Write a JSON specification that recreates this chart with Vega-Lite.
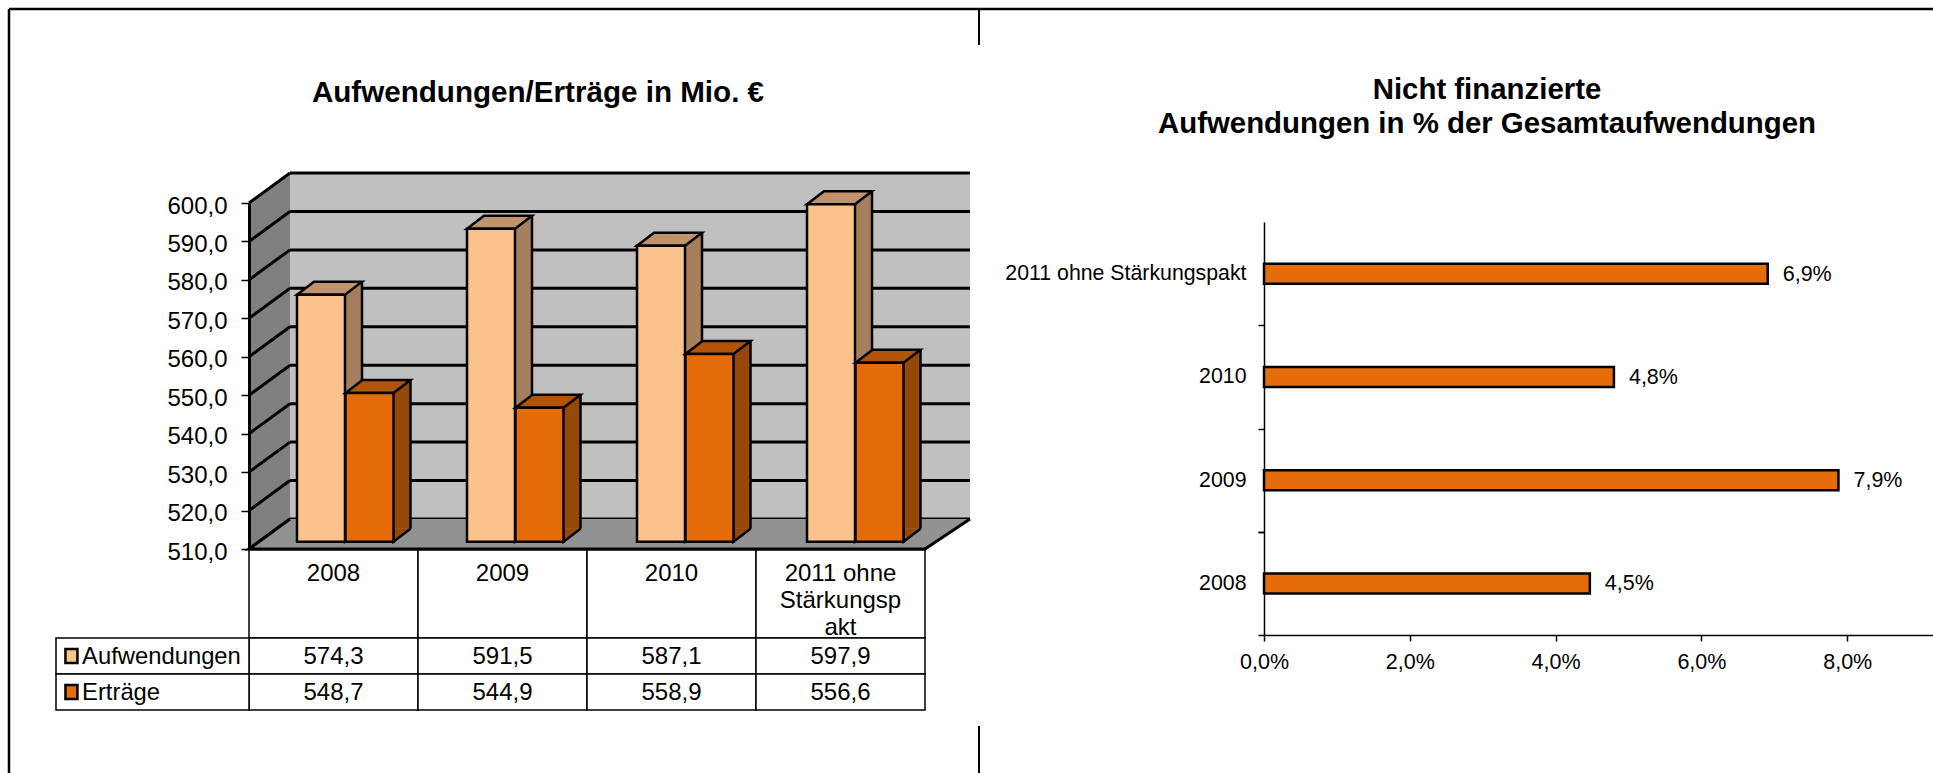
{"$schema":"https://vega.github.io/schema/vega-lite/v6.json","width":1933,"height":773,"padding":0,"autosize":"none","background":"white","view":{"stroke":null},
"config":{"locale":{"number":{"decimal":",","thousands":".","grouping":[3],"currency":["","€"]}},"text":{"font":"Liberation Sans","fontSize":24,"color":"#000"},"axis":{"labelFont":"Liberation Sans","labelFontSize":24,"labelColor":"#000","title":null,"grid":false,"domainColor":"#000","tickColor":"#000"}},
"datasets":{
"werte":[{"jahr":"2008","reihe":"Aufwendungen","wert":574.3},{"jahr":"2009","reihe":"Aufwendungen","wert":591.5},{"jahr":"2010","reihe":"Aufwendungen","wert":587.1},{"jahr":"2011 ohne Stärkungspakt","reihe":"Aufwendungen","wert":597.9},{"jahr":"2008","reihe":"Erträge","wert":548.7},{"jahr":"2009","reihe":"Erträge","wert":544.9},{"jahr":"2010","reihe":"Erträge","wert":558.9},{"jahr":"2011 ohne Stärkungspakt","reihe":"Erträge","wert":556.6}],
"skala":[{"tick":510},{"tick":520},{"tick":530},{"tick":540},{"tick":550},{"tick":560},{"tick":570},{"tick":580},{"tick":590},{"tick":600}],
"jahre":[{"jahr":"2008","kopf":"2008"},{"jahr":"2009","kopf":"2009"},{"jahr":"2010","kopf":"2010"},{"jahr":"2011 ohne Stärkungspakt","kopf":"2011 ohne\nStärkungsp\nakt"}],
"reihen":[{"reihe":"Aufwendungen"},{"reihe":"Erträge"}],
"quote":[{"jahr":"2008","anteil":0.0447},{"jahr":"2009","anteil":0.0788},{"jahr":"2010","anteil":0.048},{"jahr":"2011 ohne Stärkungspakt","anteil":0.0691}],
"titel":[{"links":"Aufwendungen/Erträge in Mio. €","rechts":"Nicht finanzierte\nAufwendungen in % der Gesamtaufwendungen"}],
"linie":[{"von":0,"bis":1}]
},
"resolve":{"scale":{"x":"independent","y":"independent"},"axis":{"x":"independent","y":"independent"}},
"layer":[
{"data":{"name":"linie"},"mark":{"type":"rule","stroke":"#000","strokeWidth":2.5},"encoding":{"x":{"field":"von","type":"quantitative","axis":null,"scale":{"domain":[0,1],"range":[9,1933]}},"x2":{"field":"bis"},"y":{"datum":0,"type":"quantitative","axis":null,"scale":{"domain":[0,1],"range":[9,9]}}}},
{"data":{"name":"linie"},"mark":{"type":"rule","stroke":"#000","strokeWidth":2.5},"encoding":{"y":{"field":"von","type":"quantitative","axis":null,"scale":{"domain":[0,1],"range":[9,773]}},"y2":{"field":"bis"},"x":{"datum":0,"type":"quantitative","axis":null,"scale":{"domain":[0,1],"range":[9,9]}}}},
{"data":{"name":"linie"},"mark":{"type":"rule","stroke":"#000","strokeWidth":2},"encoding":{"y":{"field":"von","type":"quantitative","axis":null,"scale":{"domain":[0,1],"range":[9,45]}},"y2":{"field":"bis"},"x":{"datum":0,"type":"quantitative","axis":null,"scale":{"domain":[0,1],"range":[979,979]}}}},
{"data":{"name":"linie"},"mark":{"type":"rule","stroke":"#000","strokeWidth":2},"encoding":{"y":{"field":"von","type":"quantitative","axis":null,"scale":{"domain":[0,1],"range":[726,773]}},"y2":{"field":"bis"},"x":{"datum":0,"type":"quantitative","axis":null,"scale":{"domain":[0,1],"range":[979,979]}}}},
{"data":{"name":"titel"},"mark":{"type":"text","fontWeight":"bold","fontSize":29.6,"align":"center","baseline":"middle"},"encoding":{"text":{"field":"links"},"x":{"datum":0,"type":"quantitative","axis":null,"scale":{"domain":[0,1],"range":[538,1000]}},"y":{"datum":0,"type":"quantitative","axis":null,"scale":{"domain":[0,1],"range":[93,100]}}}},
{"data":{"name":"titel"},"mark":{"type":"text","fontWeight":"bold","fontSize":29.4,"align":"center","baseline":"top","lineBreak":"\n","lineHeight":34},"encoding":{"text":{"field":"rechts"},"x":{"datum":0,"type":"quantitative","axis":null,"scale":{"domain":[0,1],"range":[1487,1900]}},"y":{"datum":0,"type":"quantitative","axis":null,"scale":{"domain":[0,1],"range":[76,120]}}}},
{"data":{"values":[{"unten":510,"oben":600}]},"mark":{"type":"rect","fill":"#C0C0C0"},"encoding":{"x":{"datum":0,"type":"quantitative","axis":null,"scale":{"domain":[0,1],"range":[290,970]}},"x2":{"datum":1},"y":{"field":"unten","type":"quantitative","axis":null,"scale":{"domain":[510,600],"range":[519,173]}},"y2":{"field":"oben"}}},
{"data":{"name":"skala"},"mark":{"type":"rule","stroke":"#000","strokeWidth":3},"encoding":{"x":{"datum":0,"type":"quantitative","axis":null,"scale":{"domain":[0,1],"range":[290,970]}},"x2":{"datum":1},"y":{"field":"tick","type":"quantitative","axis":null,"scale":{"domain":[510,600],"range":[519,173]}}}},
{"data":{"values":[{"unten":510}]},"layer":[
{"mark":{"type":"point","shape":"M0,0L41,-30L41,-376L0,-346Z","size":4,"filled":true,"fill":"#808080","opacity":1},"encoding":{"x":{"datum":0,"type":"quantitative","axis":null,"scale":{"domain":[0,1],"range":[249,925]}},"y":{"field":"unten","type":"quantitative","axis":null,"scale":{"domain":[510,600],"range":[549,203]}}}}]},
{"data":{"name":"skala"},"layer":[
{"mark":{"type":"point","shape":"M0,0L41,-30","size":4,"stroke":"#000","strokeWidth":3,"opacity":1},"encoding":{"x":{"datum":0,"type":"quantitative","axis":null,"scale":{"domain":[0,1],"range":[249,925]}},"y":{"field":"tick","type":"quantitative","scale":{"domain":[510,600],"range":[549,203]},"axis":{"orient":"left","values":[510,520,530,540,550,560,570,580,590,600],"format":".1f","offset":-249,"domainWidth":3,"tickWidth":1.5,"tickSize":8,"labelPadding":14,"labelOffset":3,"zindex":1}}}}]},
{"data":{"values":[{"unten":510}]},"layer":[
{"mark":{"type":"point","shape":"M41,-30L0,0L676,0L721,-30","size":4,"filled":true,"fill":"#929292","stroke":"#000","strokeWidth":3,"opacity":1},"encoding":{"x":{"datum":0,"type":"quantitative","axis":null,"scale":{"domain":[0,1],"range":[249,925]}},"y":{"field":"unten","type":"quantitative","axis":null,"scale":{"domain":[510,600],"range":[549,203]}}}}]},
{"data":{"name":"werte"},"transform":[{"filter":"datum.reihe==='Aufwendungen'"}],
"encoding":{"x":{"field":"jahr","type":"nominal","sort":null,"axis":null,"scale":{"range":[236,916],"padding":0}},"y":{"field":"wert","type":"quantitative","axis":null,"scale":{"domain":[510,600],"range":[541.7,196.1]}}},
"layer":[
{"mark":{"type":"bar","width":17,"xOffset":32.5,"yOffset":-13,"y2Offset":-13,"fill":"#A67F5E","cornerRadius":0},"encoding":{"y2":{"datum":510}}},
{"mark":{"type":"rule","xOffset":41,"yOffset":-13,"y2Offset":-13,"stroke":"#000","strokeWidth":2.5},"encoding":{"y2":{"datum":510}}},
{"mark":{"type":"point","shape":"M24,-13L24,0L41,-13","size":4,"filled":true,"fill":"#A67F5E","stroke":"#000","strokeWidth":2.5,"opacity":1},"encoding":{"y":{"datum":510,"type":"quantitative"}}},
{"mark":{"type":"point","shape":"M-24,0L-7,-13L41,-13L24,0Z","size":4,"filled":true,"fill":"#C0936D","stroke":"#000","strokeWidth":2.5,"opacity":1}},
{"mark":{"type":"bar","width":48,"fill":"#FCC28C","stroke":"#000","strokeWidth":2.5},"encoding":{"y2":{"datum":510}}}
]},
{"data":{"name":"werte"},"transform":[{"filter":"datum.reihe==='Erträge'"}],
"encoding":{"x":{"field":"jahr","type":"nominal","sort":null,"axis":null,"scale":{"range":[284.5,964.5],"padding":0}},"y":{"field":"wert","type":"quantitative","axis":null,"scale":{"domain":[510,600],"range":[541.7,196.1]}}},
"layer":[
{"mark":{"type":"bar","width":17,"xOffset":32.5,"yOffset":-13,"y2Offset":-13,"fill":"#964807"},"encoding":{"y2":{"datum":510}}},
{"mark":{"type":"rule","xOffset":41,"yOffset":-13,"y2Offset":-13,"stroke":"#000","strokeWidth":2.5},"encoding":{"y2":{"datum":510}}},
{"mark":{"type":"point","shape":"M24,-13L24,0L41,-13","size":4,"filled":true,"fill":"#964807","stroke":"#000","strokeWidth":2.5,"opacity":1},"encoding":{"y":{"datum":510,"type":"quantitative"}}},
{"mark":{"type":"point","shape":"M-24,0L-7,-13L41,-13L24,0Z","size":4,"filled":true,"fill":"#B25408","stroke":"#000","strokeWidth":2.5,"opacity":1}},
{"mark":{"type":"bar","width":48,"fill":"#E46C0A","stroke":"#000","strokeWidth":2.5},"encoding":{"y2":{"datum":510}}}
]},
{"data":{"name":"jahre"},
"encoding":{"x":{"field":"jahr","type":"nominal","sort":null,"axis":null,"scale":{"range":[249,925],"padding":0}},"y":{"datum":0,"type":"quantitative","axis":null,"scale":{"domain":[0,1],"range":[550,638]}}},
"layer":[
{"mark":{"type":"rect","fill":"white","stroke":"#000","strokeWidth":1.5},"encoding":{"y2":{"datum":1}}},
{"mark":{"type":"text","align":"center","baseline":"top","dy":12,"lineBreak":"\n","lineHeight":27},"encoding":{"text":{"field":"kopf"}}}
]},
{"data":{"name":"werte"},
"encoding":{"x":{"field":"jahr","type":"nominal","sort":null,"axis":null,"scale":{"range":[249,925],"padding":0}},"y":{"field":"reihe","type":"nominal","sort":null,"axis":null,"scale":{"range":[638,710],"padding":0}}},
"layer":[
{"mark":{"type":"rect","fill":"white","stroke":"#000","strokeWidth":1.5}},
{"mark":{"type":"text","align":"center","baseline":"middle","dy":1},"encoding":{"text":{"field":"wert","type":"quantitative","format":".1f"}}}
]},
{"data":{"name":"reihen"},
"encoding":{"y":{"field":"reihe","type":"nominal","sort":null,"axis":null,"scale":{"range":[638,710],"padding":0}}},
"layer":[
{"mark":{"type":"rect","fill":"white","stroke":"#000","strokeWidth":1.5},"encoding":{"x":{"datum":0,"type":"quantitative","axis":null,"scale":{"domain":[0,1],"range":[56,249]}},"x2":{"datum":1}}},
{"mark":{"type":"point","shape":"M-6,-7L6,-7L6,7L-6,7Z","size":4,"filled":true,"stroke":"#000","strokeWidth":2.5,"opacity":1},"encoding":{"x":{"datum":0.08,"type":"quantitative","axis":null,"scale":{"domain":[0,1],"range":[56,249]}},"fill":{"field":"reihe","type":"nominal","legend":null,"scale":{"domain":["Aufwendungen","Erträge"],"range":["#FCC28C","#E46C0A"]}}}},
{"mark":{"type":"text","align":"left","baseline":"middle","dy":1,"fontSize":23.8},"encoding":{"x":{"datum":0.135,"type":"quantitative","axis":null,"scale":{"domain":[0,1],"range":[56,249]}},"text":{"field":"reihe"}}}
]},
{"data":{"name":"quote"},
"encoding":{"y":{"field":"jahr","type":"nominal","title":null,"sort":["2008","2009","2010","2011 ohne Stärkungspakt"],"scale":{"domain":["2008","2009","2010","2011 ohne Stärkungspakt"],"range":[635,222],"padding":0},"axis":{"orient":"left","offset":-1264,"tickBand":"extent","labelAngle":0,"tickSize":6,"labelPadding":12,"domainWidth":1.5,"tickWidth":1.5,"labelFontSize":21.3,"labelLimit":400}},
"x":{"field":"anteil","type":"quantitative","title":null,"scale":{"domain":[0,0.09177],"range":[1264,1933]},"axis":{"orient":"bottom","offset":-138,"values":[0,0.02,0.04,0.06,0.08],"format":".1%","tickSize":6,"labelPadding":10,"domainWidth":1.5,"tickWidth":1.5,"labelFontSize":21.5,"labelAlign":"center","labelFlush":false}}},
"layer":[
{"mark":{"type":"bar","height":20,"fill":"#E46C0A","stroke":"#000","strokeWidth":2.5}},
{"mark":{"type":"text","align":"left","baseline":"middle","dx":15,"dy":1,"fontSize":21.5},"encoding":{"text":{"field":"anteil","type":"quantitative","format":".1%"}}}
]}
]}
